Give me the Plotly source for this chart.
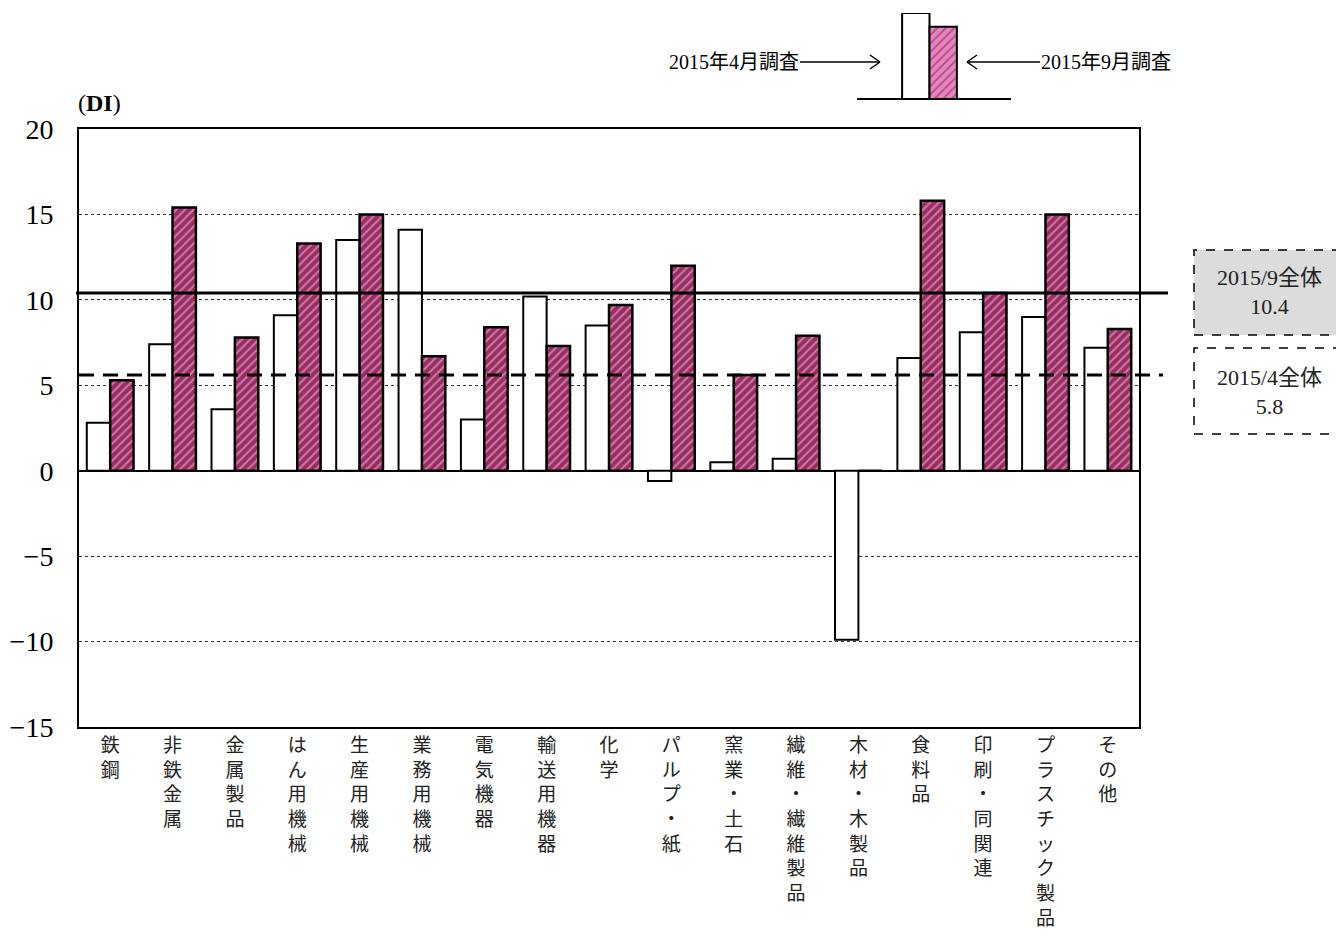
import plotly.graph_objects as go

categories = ["鉄鋼", "非鉄金属", "金属製品", "はん用機械", "生産用機械", "業務用機械", "電気機器",
              "輸送用機器", "化学", "パルプ・紙", "窯業・土石", "繊維・繊維製品", "木材・木製品",
              "食料品", "印刷・同関連", "プラスチック製品", "その他"]
apr_2015 = [2.8, 7.4, 3.6, 9.1, 13.5, 14.1, 3.0, 10.2, 8.5, -0.6, 0.5, 0.7, -9.9, 6.6, 8.1, 9.0, 7.2]
sep_2015 = [5.3, 15.4, 7.8, 13.3, 15.0, 6.7, 8.4, 7.3, 9.7, 12.0, 5.6, 7.9, 0.0, 15.8, 10.4, 15.0, 8.3]
series_names = ["2015年4月調査", "2015年9月調査"]
overall_labels = ["2015/9全体<br>10.4", "2015/4全体<br>5.8"]
overall_sep_line = 10.4
overall_apr_line = 5.6
legend_heights = [1.0, 0.84]
y_ticks = [20, 15, 10, 5, 0, -5, -10, -15]

OFF = 8  # default page body margin
W, H = 1344 - OFF, 937 - OFF
FONT = "Liberation Serif, Noto Sans CJK JP, serif"
CJK = "Noto Sans CJK JP, sans-serif"


def px(x):
    return (x - OFF) / W


def py(y):
    return 1 - (y - OFF) / H


vertical = ["<br>".join(list(c)) for c in categories]

fig = go.Figure()
fig.add_trace(go.Bar(
    x=categories, y=apr_2015, name=series_names[0],
    marker=dict(color="white", line=dict(color="black", width=2)),
    xaxis="x", yaxis="y", offsetgroup="a", showlegend=False))
fig.add_trace(go.Bar(
    x=categories, y=sep_2015, name=series_names[1],
    marker=dict(color="#9e2f66", line=dict(color="black", width=2.5),
                pattern=dict(shape="/", bgcolor="#9b2c63", fgcolor="#f3cce0", size=6, solidity=0.35)),
    xaxis="x", yaxis="y", offsetgroup="b", showlegend=False))

# schematic legend bars
fig.add_trace(go.Bar(
    x=["凡例"], y=[legend_heights[0]], marker=dict(color="white", line=dict(color="black", width=2)),
    xaxis="x2", yaxis="y2", offsetgroup="a", showlegend=False, hoverinfo="skip"))
fig.add_trace(go.Bar(
    x=["凡例"], y=[legend_heights[1]],
    marker=dict(color="#f080c0", line=dict(color="black", width=2),
                pattern=dict(shape="/", bgcolor="#f27fc2", fgcolor="#3a3a3a", size=6, solidity=0.3)),
    xaxis="x2", yaxis="y2", offsetgroup="b", showlegend=False, hoverinfo="skip"))

shapes = []
shapes.append(dict(type="line", xref="paper", yref="y", x0=px(76), x1=px(1168),
                   y0=overall_sep_line, y1=overall_sep_line, line=dict(color="black", width=3)))
shapes.append(dict(type="line", xref="paper", yref="y", x0=px(79), x1=px(1163),
                   y0=overall_apr_line, y1=overall_apr_line,
                   line=dict(color="black", width=3, dash="15px,9px")))
shapes.append(dict(type="rect", xref="paper", yref="paper", x0=px(1194), x1=px(1360),
                   y0=py(335), y1=py(250), fillcolor="#dcdcdc",
                   line=dict(color="black", width=1.5, dash="dash"), layer="below"))
shapes.append(dict(type="rect", xref="paper", yref="paper", x0=px(1194), x1=px(1360),
                   y0=py(434), y1=py(348), fillcolor="white",
                   line=dict(color="black", width=1.5, dash="dash"), layer="below"))
shapes.append(dict(type="line", xref="paper", yref="paper", x0=px(857), x1=px(1011),
                   y0=py(99), y1=py(99), line=dict(color="black", width=2)))
for (x0, x1, hx) in [(800, 880, -10), (1040, 967, 10)]:
    shapes.append(dict(type="line", xref="paper", yref="paper", x0=px(x0), x1=px(x1),
                       y0=py(62), y1=py(62), line=dict(color="black", width=1.5)))
    shapes.append(dict(type="line", xref="paper", yref="paper", x0=px(x1), x1=px(x1 + hx),
                       y0=py(62), y1=py(55), line=dict(color="black", width=1.5)))
    shapes.append(dict(type="line", xref="paper", yref="paper", x0=px(x1), x1=px(x1 + hx),
                       y0=py(62), y1=py(69), line=dict(color="black", width=1.5)))

annotations = [
    dict(text="(<b>DI</b>)", xref="paper", yref="paper", x=px(76), y=py(103), xanchor="left",
         yanchor="middle", showarrow=False, font=dict(family=FONT, size=24, color="black")),
    dict(text=series_names[0], xref="paper", yref="paper", x=px(801), y=py(62), xanchor="right",
         yanchor="middle", showarrow=False, font=dict(family=FONT, size=20, color="black")),
    dict(text=series_names[1], xref="paper", yref="paper", x=px(1039), y=py(62), xanchor="left",
         yanchor="middle", showarrow=False, font=dict(family=FONT, size=20, color="black")),
    dict(text=overall_labels[0], xref="paper", yref="paper", x=px(1269), y=py(292), xanchor="center",
         yanchor="middle", showarrow=False, align="center",
         font=dict(family=FONT, size=22, color="#222")),
    dict(text=overall_labels[1], xref="paper", yref="paper", x=px(1269), y=py(392), xanchor="center",
         yanchor="middle", showarrow=False, align="center",
         font=dict(family=FONT, size=22, color="#222")),
]

fig.update_layout(
    width=W, height=H,
    margin=dict(l=0, r=0, t=0, b=0, pad=0, autoexpand=False),
    paper_bgcolor="white", plot_bgcolor="white",
    barmode="group", bargap=0.25, bargroupgap=0,
    font=dict(family=FONT, color="black"),
    xaxis=dict(domain=[px(79), px(1139)], type="category",
               tickvals=categories, ticktext=vertical, automargin=False,
               tickfont=dict(family=CJK, size=19, color="#222"),
               showline=True, mirror=True, linecolor="black", linewidth=2,
               ticks="", showgrid=False, anchor="y"),
    yaxis=dict(domain=[py(727), py(129)], range=[-15, 20], tickvals=y_ticks, automargin=False,
               tickfont=dict(family=FONT, size=28, color="black"),
               showline=True, mirror=True, linecolor="black", linewidth=2,
               ticks="", showgrid=True, gridcolor="#333", griddash="dot", gridwidth=1,
               zeroline=True, zerolinecolor="black", zerolinewidth=2,
               ticklabelstandoff=18, anchor="x"),
    xaxis2=dict(domain=[px(893), px(966)], type="category", visible=False, automargin=False,
                anchor="y2", fixedrange=True),
    yaxis2=dict(domain=[py(99), py(13)], range=[0, 1], visible=False, automargin=False,
                anchor="x2", fixedrange=True),
    shapes=shapes,
    annotations=annotations,
)

fig.write_html("out.html")
